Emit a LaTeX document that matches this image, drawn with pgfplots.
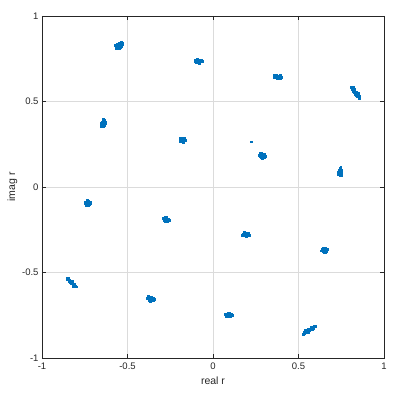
\documentclass[border=0pt]{standalone}
\usepackage{pgfplots}
\pgfplotsset{compat=1.18}
\usepackage{fontspec}
\setmainfont{Liberation Sans}
\definecolor{mblue}{RGB}{0,114,189}
\definecolor{axgray}{RGB}{38,38,38}
\begin{document}
\begin{tikzpicture}
\begin{axis}[
  scale only axis, width=342pt, height=342pt,
  xmin=-1, xmax=1, ymin=-1, ymax=1,
  xtick={-1,-0.5,0,0.5,1}, ytick={-1,-0.5,0,0.5,1},
  xticklabels={-1,-0.5,0,0.5,1}, yticklabels={-1,-0.5,0,0.5,1},
  tick align=inside, major tick length=4pt,
  tick style={axgray, line width=0.6pt},
  axis line style={axgray, line width=0.6pt},
  grid=major, grid style={line width=0.5pt, color=black!14},
  ticklabel style={font=\fontsize{9.5}{11}\selectfont, text=axgray},
  label style={font=\fontsize{10.5}{12}\selectfont, text=axgray},
  xlabel={real r}, ylabel={imag r},
  xlabel style={yshift=-1pt}, ylabel style={yshift=-2pt},
  xticklabel style={yshift=-1pt},
]
\addplot[only marks, mark=square*, mark size=0.9pt, mblue, mark options={draw=none, fill=mblue}] coordinates {
(-0.548,0.828)(-0.542,0.832)(-0.554,0.824)(-0.545,0.836)(-0.551,0.820)(-0.537,0.825)(-0.558,0.833)(-0.540,0.840)(-0.556,0.815)(-0.535,0.845)(-0.570,0.830)(-0.562,0.818)(-0.547,0.812)(-0.532,0.834)(-0.552,0.842)(-0.543,0.819)
(-0.565,0.812)(-0.530,0.842)(-0.575,0.826)(-0.538,0.850)(-0.559,0.809)
(-0.088,0.737)(-0.082,0.739)(-0.094,0.735)(-0.086,0.743)(-0.090,0.731)(-0.078,0.733)(-0.098,0.741)(-0.080,0.744)(-0.096,0.730)(-0.072,0.737)(-0.102,0.736)(-0.085,0.728)(-0.091,0.746)(-0.066,0.734)(-0.100,0.729)
(-0.104,0.744)(-0.070,0.742)(-0.094,0.750)(-0.080,0.726)(-0.060,0.735)
(0.374,0.645)(0.380,0.647)(0.368,0.643)(0.376,0.651)(0.372,0.639)(0.384,0.641)(0.364,0.649)(0.386,0.650)(0.366,0.639)(0.390,0.645)(0.358,0.647)(0.377,0.636)(0.370,0.654)(0.394,0.638)(0.358,0.656)
(0.360,0.640)(0.392,0.652)(0.381,0.633)(0.366,0.657)(0.398,0.644)
(0.834,0.552)(0.828,0.560)(0.840,0.545)(0.822,0.568)(0.846,0.537)(0.815,0.576)(0.850,0.528)(0.810,0.582)(0.853,0.521)(0.838,0.556)(0.830,0.548)(0.826,0.556)(0.842,0.550)(0.818,0.583)(0.845,0.542)(0.836,0.535)
(0.826,0.574)(0.842,0.530)(0.820,0.562)(0.848,0.548)(0.833,0.542)(0.812,0.572)(0.855,0.530)
(-0.643,0.370)(-0.637,0.372)(-0.649,0.368)(-0.641,0.377)(-0.645,0.362)(-0.635,0.378)(-0.651,0.361)(-0.639,0.385)(-0.633,0.390)(-0.648,0.375)(-0.638,0.364)(-0.653,0.369)(-0.643,0.356)(-0.631,0.372)(-0.646,0.382)
(-0.655,0.376)(-0.633,0.362)(-0.640,0.395)(-0.652,0.356)(-0.628,0.380)
(-0.181,0.275)(-0.175,0.277)(-0.187,0.273)(-0.179,0.281)(-0.183,0.269)(-0.173,0.271)(-0.189,0.279)(-0.177,0.286)(-0.185,0.266)(-0.169,0.276)(-0.193,0.276)(-0.176,0.262)(-0.182,0.284)
(-0.195,0.268)(-0.167,0.284)(-0.172,0.266)(-0.190,0.285)(-0.162,0.274)
(0.224,0.265)
(0.285,0.185)(0.291,0.187)(0.279,0.183)(0.287,0.191)(0.283,0.179)(0.293,0.181)(0.277,0.189)(0.282,0.196)(0.289,0.173)(0.297,0.184)(0.275,0.180)(0.279,0.173)(0.300,0.174)(0.280,0.200)(0.290,0.178)
(0.271,0.186)(0.298,0.192)(0.288,0.166)(0.274,0.196)(0.303,0.180)
(0.743,0.090)(0.746,0.097)(0.740,0.083)(0.748,0.088)(0.738,0.092)(0.744,0.104)(0.742,0.076)(0.736,0.080)(0.749,0.100)(0.745,0.112)(0.741,0.068)(0.734,0.072)(0.750,0.092)(0.739,0.098)
(0.732,0.088)(0.752,0.082)(0.747,0.118)(0.736,0.100)(0.750,0.070)
(-0.735,-0.094)(-0.729,-0.092)(-0.741,-0.096)(-0.733,-0.088)(-0.737,-0.100)(-0.727,-0.098)(-0.743,-0.090)(-0.735,-0.080)(-0.731,-0.106)(-0.725,-0.088)(-0.747,-0.098)(-0.738,-0.104)(-0.730,-0.082)(-0.720,-0.090)
(-0.750,-0.086)(-0.722,-0.100)(-0.743,-0.106)(-0.738,-0.074)(-0.716,-0.094)
(-0.275,-0.189)(-0.269,-0.187)(-0.281,-0.191)(-0.273,-0.183)(-0.277,-0.195)(-0.267,-0.193)(-0.283,-0.185)(-0.273,-0.176)(-0.277,-0.200)(-0.263,-0.196)(-0.285,-0.192)(-0.271,-0.180)(-0.279,-0.198)
(-0.289,-0.184)(-0.261,-0.188)(-0.268,-0.203)(-0.282,-0.178)(-0.258,-0.194)
(-0.830,-0.556)(-0.836,-0.550)(-0.824,-0.562)(-0.842,-0.545)(-0.818,-0.567)(-0.848,-0.540)(-0.812,-0.573)(-0.853,-0.535)(-0.806,-0.579)(-0.802,-0.583)(-0.840,-0.552)(-0.828,-0.548)(-0.832,-0.563)(-0.846,-0.534)(-0.820,-0.575)
(-0.838,-0.560)(-0.824,-0.552)(-0.856,-0.542)(-0.810,-0.566)(-0.816,-0.580)(-0.844,-0.532)
(-0.366,-0.653)(-0.360,-0.651)(-0.372,-0.655)(-0.364,-0.647)(-0.368,-0.659)(-0.356,-0.657)(-0.376,-0.649)(-0.352,-0.650)(-0.380,-0.643)(-0.362,-0.663)(-0.350,-0.660)(-0.370,-0.645)(-0.358,-0.645)(-0.374,-0.660)
(-0.384,-0.652)(-0.346,-0.654)(-0.366,-0.667)(-0.378,-0.640)(-0.354,-0.664)
(0.189,-0.277)(0.195,-0.275)(0.183,-0.279)(0.191,-0.271)(0.187,-0.283)(0.199,-0.281)(0.179,-0.273)(0.201,-0.273)(0.177,-0.280)(0.205,-0.277)(0.175,-0.276)(0.193,-0.285)(0.185,-0.269)
(0.171,-0.282)(0.207,-0.270)(0.196,-0.287)(0.181,-0.266)(0.210,-0.280)
(0.653,-0.370)(0.659,-0.368)(0.647,-0.372)(0.655,-0.364)(0.651,-0.376)(0.661,-0.374)(0.645,-0.366)(0.657,-0.357)(0.649,-0.380)(0.637,-0.366)(0.665,-0.372)(0.643,-0.378)(0.660,-0.362)
(0.633,-0.372)(0.668,-0.366)(0.654,-0.384)(0.642,-0.360)(0.664,-0.378)
(0.094,-0.745)(0.100,-0.743)(0.088,-0.747)(0.096,-0.739)(0.092,-0.751)(0.104,-0.749)(0.084,-0.741)(0.108,-0.742)(0.080,-0.746)(0.088,-0.756)(0.098,-0.736)(0.076,-0.750)
(0.072,-0.744)(0.112,-0.748)(0.086,-0.735)(0.102,-0.755)(0.078,-0.756)
(0.561,-0.834)(0.567,-0.830)(0.555,-0.838)(0.573,-0.826)(0.549,-0.842)(0.579,-0.822)(0.543,-0.846)(0.585,-0.818)(0.537,-0.850)(0.591,-0.814)(0.531,-0.856)(0.528,-0.860)(0.565,-0.838)(0.557,-0.830)(0.571,-0.834)(0.553,-0.846)(0.575,-0.820)(0.545,-0.852)
(0.596,-0.813)(0.540,-0.838)(0.580,-0.834)(0.560,-0.848)(0.530,-0.848)(0.586,-0.826)
};
\end{axis}
\path ([xshift=-42pt,yshift=-38pt]current axis.south west) rectangle ([xshift=18pt,yshift=16pt]current axis.north east);
\end{tikzpicture}
\end{document}
